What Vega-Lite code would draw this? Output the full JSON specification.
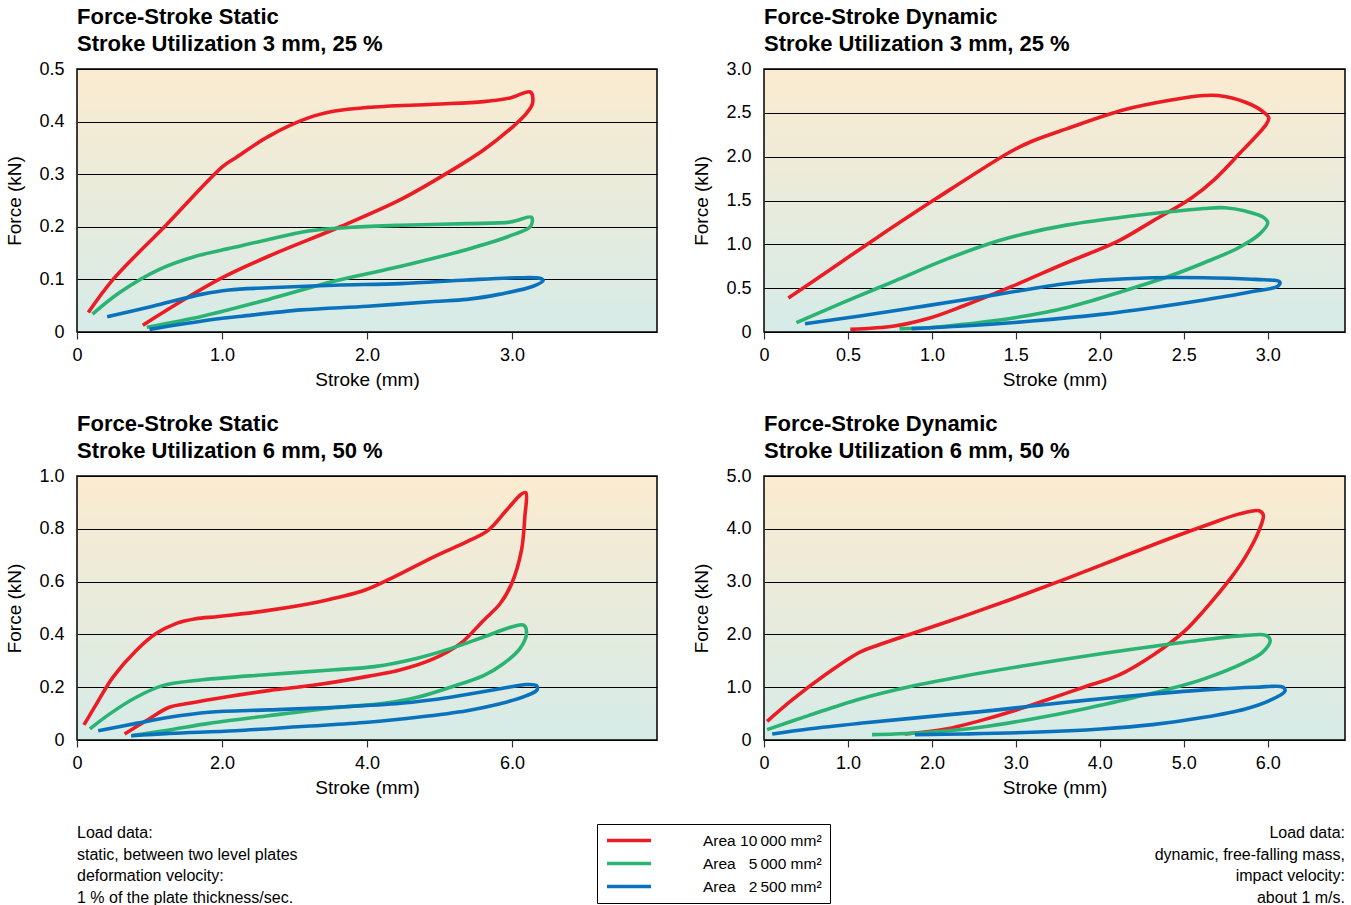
{
  "$schema": "https://vega.github.io/schema/vega-lite/v6.json",
  "padding": {"left": 5, "top": 5, "right": 0, "bottom": 0},
  "background": "white",
  "datasets": {
    "curves": [
      {"p":1,"s":"10000","i":0,"x":0.078,"y":0.037},{"p":1,"s":"10000","i":1,"x":0.249,"y":0.100},{"p":1,"s":"10000","i":2,"x":0.614,"y":0.203},{"p":1,"s":"10000","i":3,"x":1.002,"y":0.314},{"p":1,"s":"10000","i":4,"x":1.093,"y":0.331},{"p":1,"s":"10000","i":5,"x":1.321,"y":0.372},{"p":1,"s":"10000","i":6,"x":1.595,"y":0.407},{"p":1,"s":"10000","i":7,"x":1.777,"y":0.420},{"p":1,"s":"10000","i":8,"x":2.005,"y":0.427},{"p":1,"s":"10000","i":9,"x":2.462,"y":0.433},{"p":1,"s":"10000","i":10,"x":2.804,"y":0.438},{"p":1,"s":"10000","i":11,"x":2.987,"y":0.445},{"p":1,"s":"10000","i":12,"x":3.128,"y":0.456},{"p":1,"s":"10000","i":13,"x":3.142,"y":0.435},{"p":1,"s":"10000","i":14,"x":3.101,"y":0.416},{"p":1,"s":"10000","i":15,"x":3.009,"y":0.391},{"p":1,"s":"10000","i":16,"x":2.804,"y":0.346},{"p":1,"s":"10000","i":17,"x":2.576,"y":0.306},{"p":1,"s":"10000","i":18,"x":2.234,"y":0.252},{"p":1,"s":"10000","i":19,"x":1.823,"y":0.201},{"p":1,"s":"10000","i":20,"x":1.321,"y":0.144},{"p":1,"s":"10000","i":21,"x":0.979,"y":0.100},{"p":1,"s":"10000","i":22,"x":0.705,"y":0.056},{"p":1,"s":"10000","i":23,"x":0.454,"y":0.013},
      {"p":1,"s":"5000","i":0,"x":0.107,"y":0.034},{"p":1,"s":"5000","i":1,"x":0.294,"y":0.075},{"p":1,"s":"5000","i":2,"x":0.568,"y":0.119},{"p":1,"s":"5000","i":3,"x":0.819,"y":0.144},{"p":1,"s":"5000","i":4,"x":1.070,"y":0.160},{"p":1,"s":"5000","i":5,"x":1.321,"y":0.176},{"p":1,"s":"5000","i":6,"x":1.595,"y":0.192},{"p":1,"s":"5000","i":7,"x":1.891,"y":0.199},{"p":1,"s":"5000","i":8,"x":2.234,"y":0.203},{"p":1,"s":"5000","i":9,"x":2.690,"y":0.206},{"p":1,"s":"5000","i":10,"x":2.987,"y":0.209},{"p":1,"s":"5000","i":11,"x":3.135,"y":0.218},{"p":1,"s":"5000","i":12,"x":3.128,"y":0.201},{"p":1,"s":"5000","i":13,"x":3.009,"y":0.185},{"p":1,"s":"5000","i":14,"x":2.690,"y":0.157},{"p":1,"s":"5000","i":15,"x":2.234,"y":0.125},{"p":1,"s":"5000","i":16,"x":1.777,"y":0.097},{"p":1,"s":"5000","i":17,"x":1.321,"y":0.062},{"p":1,"s":"5000","i":18,"x":0.865,"y":0.030},{"p":1,"s":"5000","i":19,"x":0.481,"y":0.009},
      {"p":1,"s":"2500","i":0,"x":0.208,"y":0.029},{"p":1,"s":"2500","i":1,"x":0.522,"y":0.049},{"p":1,"s":"2500","i":2,"x":0.865,"y":0.072},{"p":1,"s":"2500","i":3,"x":1.047,"y":0.080},{"p":1,"s":"2500","i":4,"x":1.321,"y":0.084},{"p":1,"s":"2500","i":5,"x":1.777,"y":0.089},{"p":1,"s":"2500","i":6,"x":2.234,"y":0.092},{"p":1,"s":"2500","i":7,"x":2.690,"y":0.099},{"p":1,"s":"2500","i":8,"x":3.032,"y":0.103},{"p":1,"s":"2500","i":9,"x":3.192,"y":0.102},{"p":1,"s":"2500","i":10,"x":3.215,"y":0.098},{"p":1,"s":"2500","i":11,"x":3.146,"y":0.087},{"p":1,"s":"2500","i":12,"x":2.918,"y":0.072},{"p":1,"s":"2500","i":13,"x":2.690,"y":0.062},{"p":1,"s":"2500","i":14,"x":2.462,"y":0.058},{"p":1,"s":"2500","i":15,"x":2.005,"y":0.049},{"p":1,"s":"2500","i":16,"x":1.549,"y":0.042},{"p":1,"s":"2500","i":17,"x":1.138,"y":0.030},{"p":1,"s":"2500","i":18,"x":0.865,"y":0.021},{"p":1,"s":"2500","i":19,"x":0.500,"y":0.005},
      {"p":2,"s":"10000","i":0,"x":0.145,"y":0.387},{"p":2,"s":"10000","i":1,"x":0.367,"y":0.676},{"p":2,"s":"10000","i":2,"x":0.633,"y":1.025},{"p":2,"s":"10000","i":3,"x":1.023,"y":1.519},{"p":2,"s":"10000","i":4,"x":1.473,"y":2.062},{"p":2,"s":"10000","i":5,"x":1.596,"y":2.176},{"p":2,"s":"10000","i":6,"x":1.801,"y":2.317},{"p":2,"s":"10000","i":7,"x":2.150,"y":2.537},{"p":2,"s":"10000","i":8,"x":2.416,"y":2.643},{"p":2,"s":"10000","i":9,"x":2.621,"y":2.697},{"p":2,"s":"10000","i":10,"x":2.703,"y":2.697},{"p":2,"s":"10000","i":11,"x":2.867,"y":2.621},{"p":2,"s":"10000","i":12,"x":2.969,"y":2.518},{"p":2,"s":"10000","i":13,"x":3.006,"y":2.442},{"p":2,"s":"10000","i":14,"x":2.990,"y":2.366},{"p":2,"s":"10000","i":15,"x":2.826,"y":2.024},{"p":2,"s":"10000","i":16,"x":2.682,"y":1.739},{"p":2,"s":"10000","i":17,"x":2.539,"y":1.519},{"p":2,"s":"10000","i":18,"x":2.314,"y":1.265},{"p":2,"s":"10000","i":19,"x":2.109,"y":1.037},{"p":2,"s":"10000","i":20,"x":1.801,"y":0.790},{"p":2,"s":"10000","i":21,"x":1.473,"y":0.517},{"p":2,"s":"10000","i":22,"x":1.186,"y":0.296},{"p":2,"s":"10000","i":23,"x":0.982,"y":0.156},{"p":2,"s":"10000","i":24,"x":0.777,"y":0.068},{"p":2,"s":"10000","i":25,"x":0.514,"y":0.030},
      {"p":2,"s":"5000","i":0,"x":0.193,"y":0.106},{"p":2,"s":"5000","i":1,"x":0.469,"y":0.334},{"p":2,"s":"5000","i":2,"x":0.777,"y":0.581},{"p":2,"s":"5000","i":3,"x":1.084,"y":0.828},{"p":2,"s":"5000","i":4,"x":1.391,"y":1.037},{"p":2,"s":"5000","i":5,"x":1.535,"y":1.113},{"p":2,"s":"5000","i":6,"x":1.801,"y":1.219},{"p":2,"s":"5000","i":7,"x":2.109,"y":1.303},{"p":2,"s":"5000","i":8,"x":2.416,"y":1.371},{"p":2,"s":"5000","i":9,"x":2.621,"y":1.409},{"p":2,"s":"5000","i":10,"x":2.744,"y":1.417},{"p":2,"s":"5000","i":11,"x":2.867,"y":1.379},{"p":2,"s":"5000","i":12,"x":2.969,"y":1.314},{"p":2,"s":"5000","i":13,"x":3.000,"y":1.246},{"p":2,"s":"5000","i":14,"x":2.949,"y":1.113},{"p":2,"s":"5000","i":15,"x":2.826,"y":0.961},{"p":2,"s":"5000","i":16,"x":2.621,"y":0.790},{"p":2,"s":"5000","i":17,"x":2.416,"y":0.638},{"p":2,"s":"5000","i":18,"x":2.109,"y":0.448},{"p":2,"s":"5000","i":19,"x":1.801,"y":0.277},{"p":2,"s":"5000","i":20,"x":1.494,"y":0.163},{"p":2,"s":"5000","i":21,"x":1.186,"y":0.087},{"p":2,"s":"5000","i":22,"x":0.982,"y":0.049},{"p":2,"s":"5000","i":23,"x":0.807,"y":0.038},
      {"p":2,"s":"2500","i":0,"x":0.244,"y":0.095},{"p":2,"s":"2500","i":1,"x":0.572,"y":0.182},{"p":2,"s":"2500","i":2,"x":0.982,"y":0.304},{"p":2,"s":"2500","i":3,"x":1.391,"y":0.429},{"p":2,"s":"2500","i":4,"x":1.801,"y":0.554},{"p":2,"s":"2500","i":5,"x":2.006,"y":0.592},{"p":2,"s":"2500","i":6,"x":2.314,"y":0.619},{"p":2,"s":"2500","i":7,"x":2.621,"y":0.619},{"p":2,"s":"2500","i":8,"x":2.928,"y":0.600},{"p":2,"s":"2500","i":9,"x":3.072,"y":0.570},{"p":2,"s":"2500","i":10,"x":3.061,"y":0.524},{"p":2,"s":"2500","i":11,"x":2.928,"y":0.467},{"p":2,"s":"2500","i":12,"x":2.621,"y":0.365},{"p":2,"s":"2500","i":13,"x":2.314,"y":0.277},{"p":2,"s":"2500","i":14,"x":2.006,"y":0.201},{"p":2,"s":"2500","i":15,"x":1.596,"y":0.125},{"p":2,"s":"2500","i":16,"x":1.186,"y":0.068},{"p":2,"s":"2500","i":17,"x":0.879,"y":0.038},
      {"p":3,"s":"10000","i":0,"x":0.096,"y":0.057},{"p":3,"s":"10000","i":1,"x":0.269,"y":0.137},{"p":3,"s":"10000","i":2,"x":0.497,"y":0.238},{"p":3,"s":"10000","i":3,"x":0.817,"y":0.339},{"p":3,"s":"10000","i":4,"x":1.090,"y":0.403},{"p":3,"s":"10000","i":5,"x":1.364,"y":0.441},{"p":3,"s":"10000","i":6,"x":1.638,"y":0.459},{"p":3,"s":"10000","i":7,"x":1.957,"y":0.468},{"p":3,"s":"10000","i":8,"x":2.641,"y":0.491},{"p":3,"s":"10000","i":9,"x":3.326,"y":0.523},{"p":3,"s":"10000","i":10,"x":3.964,"y":0.567},{"p":3,"s":"10000","i":11,"x":4.375,"y":0.618},{"p":3,"s":"10000","i":12,"x":4.922,"y":0.694},{"p":3,"s":"10000","i":13,"x":5.379,"y":0.751},{"p":3,"s":"10000","i":14,"x":5.675,"y":0.795},{"p":3,"s":"10000","i":15,"x":5.926,"y":0.871},{"p":3,"s":"10000","i":16,"x":6.131,"y":0.932},{"p":3,"s":"10000","i":17,"x":6.191,"y":0.937},{"p":3,"s":"10000","i":18,"x":6.177,"y":0.846},{"p":3,"s":"10000","i":19,"x":6.131,"y":0.719},{"p":3,"s":"10000","i":20,"x":5.995,"y":0.592},{"p":3,"s":"10000","i":21,"x":5.835,"y":0.516},{"p":3,"s":"10000","i":22,"x":5.607,"y":0.453},{"p":3,"s":"10000","i":23,"x":5.287,"y":0.365},{"p":3,"s":"10000","i":24,"x":4.922,"y":0.308},{"p":3,"s":"10000","i":25,"x":4.466,"y":0.266},{"p":3,"s":"10000","i":26,"x":4.010,"y":0.241},{"p":3,"s":"10000","i":27,"x":3.326,"y":0.210},{"p":3,"s":"10000","i":28,"x":2.641,"y":0.187},{"p":3,"s":"10000","i":29,"x":2.094,"y":0.165},{"p":3,"s":"10000","i":30,"x":1.501,"y":0.137},{"p":3,"s":"10000","i":31,"x":1.273,"y":0.124},{"p":3,"s":"10000","i":32,"x":0.953,"y":0.073},{"p":3,"s":"10000","i":33,"x":0.657,"y":0.023},
      {"p":3,"s":"5000","i":0,"x":0.178,"y":0.042},{"p":3,"s":"5000","i":1,"x":0.452,"y":0.099},{"p":3,"s":"5000","i":2,"x":0.817,"y":0.162},{"p":3,"s":"5000","i":3,"x":1.182,"y":0.206},{"p":3,"s":"5000","i":4,"x":1.729,"y":0.228},{"p":3,"s":"5000","i":5,"x":2.641,"y":0.248},{"p":3,"s":"5000","i":6,"x":3.554,"y":0.266},{"p":3,"s":"5000","i":7,"x":4.101,"y":0.278},{"p":3,"s":"5000","i":8,"x":4.694,"y":0.310},{"p":3,"s":"5000","i":9,"x":5.151,"y":0.346},{"p":3,"s":"5000","i":10,"x":5.607,"y":0.390},{"p":3,"s":"5000","i":11,"x":6.017,"y":0.430},{"p":3,"s":"5000","i":12,"x":6.163,"y":0.435},{"p":3,"s":"5000","i":13,"x":6.200,"y":0.403},{"p":3,"s":"5000","i":14,"x":6.109,"y":0.346},{"p":3,"s":"5000","i":15,"x":5.880,"y":0.289},{"p":3,"s":"5000","i":16,"x":5.607,"y":0.244},{"p":3,"s":"5000","i":17,"x":5.151,"y":0.200},{"p":3,"s":"5000","i":18,"x":4.694,"y":0.162},{"p":3,"s":"5000","i":19,"x":4.238,"y":0.139},{"p":3,"s":"5000","i":20,"x":3.554,"y":0.122},{"p":3,"s":"5000","i":21,"x":2.641,"y":0.092},{"p":3,"s":"5000","i":22,"x":1.820,"y":0.063},{"p":3,"s":"5000","i":23,"x":1.273,"y":0.038},{"p":3,"s":"5000","i":24,"x":0.748,"y":0.016},
      {"p":3,"s":"2500","i":0,"x":0.292,"y":0.035},{"p":3,"s":"2500","i":1,"x":0.817,"y":0.063},{"p":3,"s":"2500","i":2,"x":1.273,"y":0.086},{"p":3,"s":"2500","i":3,"x":1.820,"y":0.105},{"p":3,"s":"2500","i":4,"x":2.641,"y":0.114},{"p":3,"s":"2500","i":5,"x":3.554,"y":0.124},{"p":3,"s":"2500","i":6,"x":4.466,"y":0.139},{"p":3,"s":"2500","i":7,"x":5.151,"y":0.162},{"p":3,"s":"2500","i":8,"x":5.835,"y":0.194},{"p":3,"s":"2500","i":9,"x":6.200,"y":0.210},{"p":3,"s":"2500","i":10,"x":6.337,"y":0.206},{"p":3,"s":"2500","i":11,"x":6.346,"y":0.190},{"p":3,"s":"2500","i":12,"x":6.200,"y":0.168},{"p":3,"s":"2500","i":13,"x":5.835,"y":0.137},{"p":3,"s":"2500","i":14,"x":5.379,"y":0.111},{"p":3,"s":"2500","i":15,"x":4.694,"y":0.086},{"p":3,"s":"2500","i":16,"x":4.010,"y":0.067},{"p":3,"s":"2500","i":17,"x":3.098,"y":0.051},{"p":3,"s":"2500","i":18,"x":2.185,"y":0.035},{"p":3,"s":"2500","i":19,"x":1.273,"y":0.025},{"p":3,"s":"2500","i":20,"x":0.748,"y":0.016},
      {"p":4,"s":"10000","i":0,"x":0.037,"y":0.354},{"p":4,"s":"10000","i":1,"x":0.324,"y":0.747},{"p":4,"s":"10000","i":2,"x":0.734,"y":1.241},{"p":4,"s":"10000","i":3,"x":1.143,"y":1.665},{"p":4,"s":"10000","i":4,"x":1.348,"y":1.791},{"p":4,"s":"10000","i":5,"x":1.758,"y":2.013},{"p":4,"s":"10000","i":6,"x":2.373,"y":2.342},{"p":4,"s":"10000","i":7,"x":2.988,"y":2.690},{"p":4,"s":"10000","i":8,"x":3.602,"y":3.057},{"p":4,"s":"10000","i":9,"x":4.217,"y":3.437},{"p":4,"s":"10000","i":10,"x":4.832,"y":3.816},{"p":4,"s":"10000","i":11,"x":5.324,"y":4.101},{"p":4,"s":"10000","i":12,"x":5.652,"y":4.278},{"p":4,"s":"10000","i":13,"x":5.898,"y":4.342},{"p":4,"s":"10000","i":14,"x":5.947,"y":4.259},{"p":4,"s":"10000","i":15,"x":5.898,"y":3.975},{"p":4,"s":"10000","i":16,"x":5.734,"y":3.468},{"p":4,"s":"10000","i":17,"x":5.570,"y":3.089},{"p":4,"s":"10000","i":18,"x":5.242,"y":2.456},{"p":4,"s":"10000","i":19,"x":4.996,"y":2.044},{"p":4,"s":"10000","i":20,"x":4.627,"y":1.601},{"p":4,"s":"10000","i":21,"x":4.217,"y":1.222},{"p":4,"s":"10000","i":22,"x":3.807,"y":1.000},{"p":4,"s":"10000","i":23,"x":3.398,"y":0.778},{"p":4,"s":"10000","i":24,"x":2.988,"y":0.557},{"p":4,"s":"10000","i":25,"x":2.578,"y":0.367},{"p":4,"s":"10000","i":26,"x":2.168,"y":0.209},{"p":4,"s":"10000","i":27,"x":1.676,"y":0.114},
      {"p":4,"s":"5000","i":0,"x":0.037,"y":0.196},{"p":4,"s":"5000","i":1,"x":0.529,"y":0.462},{"p":4,"s":"5000","i":2,"x":1.143,"y":0.778},{"p":4,"s":"5000","i":3,"x":1.758,"y":1.019},{"p":4,"s":"5000","i":4,"x":2.373,"y":1.209},{"p":4,"s":"5000","i":5,"x":3.193,"y":1.430},{"p":4,"s":"5000","i":6,"x":4.012,"y":1.633},{"p":4,"s":"5000","i":7,"x":4.627,"y":1.772},{"p":4,"s":"5000","i":8,"x":5.242,"y":1.899},{"p":4,"s":"5000","i":9,"x":5.734,"y":1.981},{"p":4,"s":"5000","i":10,"x":5.980,"y":1.981},{"p":4,"s":"5000","i":11,"x":6.029,"y":1.886},{"p":4,"s":"5000","i":12,"x":5.939,"y":1.665},{"p":4,"s":"5000","i":13,"x":5.734,"y":1.475},{"p":4,"s":"5000","i":14,"x":5.242,"y":1.158},{"p":4,"s":"5000","i":15,"x":4.832,"y":0.968},{"p":4,"s":"5000","i":16,"x":4.422,"y":0.810},{"p":4,"s":"5000","i":17,"x":3.807,"y":0.589},{"p":4,"s":"5000","i":18,"x":3.193,"y":0.399},{"p":4,"s":"5000","i":19,"x":2.578,"y":0.241},{"p":4,"s":"5000","i":20,"x":1.963,"y":0.146},{"p":4,"s":"5000","i":21,"x":1.553,"y":0.114},{"p":4,"s":"5000","i":22,"x":1.287,"y":0.101},
      {"p":4,"s":"2500","i":0,"x":0.098,"y":0.114},{"p":4,"s":"2500","i":1,"x":0.529,"y":0.209},{"p":4,"s":"2500","i":2,"x":1.143,"y":0.316},{"p":4,"s":"2500","i":3,"x":1.963,"y":0.443},{"p":4,"s":"2500","i":4,"x":2.783,"y":0.570},{"p":4,"s":"2500","i":5,"x":3.602,"y":0.715},{"p":4,"s":"2500","i":6,"x":4.422,"y":0.842},{"p":4,"s":"2500","i":7,"x":5.242,"y":0.949},{"p":4,"s":"2500","i":8,"x":5.857,"y":1.000},{"p":4,"s":"2500","i":9,"x":6.184,"y":1.000},{"p":4,"s":"2500","i":10,"x":6.205,"y":0.924},{"p":4,"s":"2500","i":11,"x":6.020,"y":0.747},{"p":4,"s":"2500","i":12,"x":5.734,"y":0.589},{"p":4,"s":"2500","i":13,"x":5.242,"y":0.430},{"p":4,"s":"2500","i":14,"x":4.627,"y":0.291},{"p":4,"s":"2500","i":15,"x":4.012,"y":0.209},{"p":4,"s":"2500","i":16,"x":3.193,"y":0.146},{"p":4,"s":"2500","i":17,"x":2.373,"y":0.114},{"p":4,"s":"2500","i":18,"x":1.799,"y":0.101}
    ]
  },
  "columns": 2,
  "spacing": {"row": 22, "column": 34},
  "concat": [
    {
      "title": {"text": ["Force-Stroke Static", "Stroke Utilization 3 mm, 25 %"]},
      "width": 580, "height": 263,
      "data": {"name": "curves"},
      "transform": [{"filter": "datum.p == 1"}],
      "mark": {"type": "line", "strokeWidth": 3.6, "interpolate": "catmull-rom"},
      "encoding": {
        "x": {"field": "x", "type": "quantitative", "scale": {"domain": [0, 4], "nice": false}, "axis": {"values": [0, 1, 2, 3], "title": "Stroke (mm)"}},
        "y": {"field": "y", "type": "quantitative", "scale": {"domain": [0, 0.5], "nice": false}, "axis": {"values": [0, 0.1, 0.2, 0.3, 0.4, 0.5], "title": "Force (kN)"}},
        "color": {"field": "s", "type": "nominal", "scale": {"domain": ["10000", "5000", "2500"], "range": ["#ec1c24", "#2bb373", "#0a72bc"]},
          "legend": {"orient": "none", "legendX": 520, "legendY": 755, "title": null, "labelExpr": "datum.value == '10000' ? 'Area 10\u2009000 mm²' : datum.value == '5000' ? 'Area \u20075\u2009000 mm²' : 'Area \u20072\u2009500 mm²'"}},
        "order": {"field": "i", "type": "quantitative"}
      }
    },
    {
      "title": {"text": ["Force-Stroke Dynamic", "Stroke Utilization 3 mm, 25 %"]},
      "width": 581, "height": 263,
      "data": {"name": "curves"},
      "transform": [{"filter": "datum.p == 2"}],
      "mark": {"type": "line", "strokeWidth": 3.6, "interpolate": "catmull-rom"},
      "encoding": {
        "x": {"field": "x", "type": "quantitative", "scale": {"domain": [0, 3.46], "nice": false}, "axis": {"values": [0, 0.5, 1, 1.5, 2, 2.5, 3], "title": "Stroke (mm)"}},
        "y": {"field": "y", "type": "quantitative", "scale": {"domain": [0, 3], "nice": false}, "axis": {"values": [0, 0.5, 1, 1.5, 2, 2.5, 3], "title": "Force (kN)"}},
        "color": {"field": "s", "type": "nominal", "scale": {"domain": ["10000", "5000", "2500"], "range": ["#ec1c24", "#2bb373", "#0a72bc"]},
          "legend": {"orient": "none", "legendX": 520, "legendY": 755, "title": null, "labelExpr": "datum.value == '10000' ? 'Area 10\u2009000 mm²' : datum.value == '5000' ? 'Area \u20075\u2009000 mm²' : 'Area \u20072\u2009500 mm²'"}},
        "order": {"field": "i", "type": "quantitative"}
      }
    },
    {
      "title": {"text": ["Force-Stroke Static", "Stroke Utilization 6 mm, 50 %"]},
      "width": 580, "height": 264,
      "data": {"name": "curves"},
      "transform": [{"filter": "datum.p == 3"}],
      "mark": {"type": "line", "strokeWidth": 3.6, "interpolate": "catmull-rom"},
      "encoding": {
        "x": {"field": "x", "type": "quantitative", "scale": {"domain": [0, 8], "nice": false}, "axis": {"values": [0, 2, 4, 6], "title": "Stroke (mm)"}},
        "y": {"field": "y", "type": "quantitative", "scale": {"domain": [0, 1], "nice": false}, "axis": {"values": [0, 0.2, 0.4, 0.6, 0.8, 1], "title": "Force (kN)"}},
        "color": {"field": "s", "type": "nominal", "scale": {"domain": ["10000", "5000", "2500"], "range": ["#ec1c24", "#2bb373", "#0a72bc"]},
          "legend": {"orient": "none", "legendX": 520, "legendY": 755, "title": null, "labelExpr": "datum.value == '10000' ? 'Area 10\u2009000 mm²' : datum.value == '5000' ? 'Area \u20075\u2009000 mm²' : 'Area \u20072\u2009500 mm²'"}},
        "order": {"field": "i", "type": "quantitative"}
      }
    },
    {
      "title": {"text": ["Force-Stroke Dynamic", "Stroke Utilization 6 mm, 50 %"]},
      "width": 581, "height": 264,
      "data": {"name": "curves"},
      "transform": [{"filter": "datum.p == 4"}],
      "mark": {"type": "line", "strokeWidth": 3.6, "interpolate": "catmull-rom"},
      "encoding": {
        "x": {"field": "x", "type": "quantitative", "scale": {"domain": [0, 6.92], "nice": false}, "axis": {"values": [0, 1, 2, 3, 4, 5, 6], "title": "Stroke (mm)"}},
        "y": {"field": "y", "type": "quantitative", "scale": {"domain": [0, 5], "nice": false}, "axis": {"values": [0, 1, 2, 3, 4, 5], "title": "Force (kN)"}},
        "color": {"field": "s", "type": "nominal", "scale": {"domain": ["10000", "5000", "2500"], "range": ["#ec1c24", "#2bb373", "#0a72bc"]},
          "legend": {"orient": "none", "legendX": 520, "legendY": 755, "title": null, "labelExpr": "datum.value == '10000' ? 'Area 10\u2009000 mm²' : datum.value == '5000' ? 'Area \u20075\u2009000 mm²' : 'Area \u20072\u2009500 mm²'"}},
        "order": {"field": "i", "type": "quantitative"}
      }
    },
    {
      "width": 580, "height": 78,
      "view": {"stroke": null, "fill": null},
      "data": {"values": [
        {"line": 0, "text": "Load data:"},
        {"line": 1, "text": "static, between two level plates"},
        {"line": 2, "text": "deformation velocity:"},
        {"line": 3, "text": "1 % of the plate thickness/sec."}
      ]},
      "mark": {"type": "text", "align": "left", "baseline": "middle", "font": "Liberation Sans", "fontSize": 16, "color": "black"},
      "encoding": {
        "x": {"datum": 0, "type": "quantitative", "scale": {"domain": [0, 1]}, "axis": null},
        "y": {"field": "line", "type": "quantitative", "scale": {"domain": [-0.6, 3], "reverse": true, "nice": false, "zero": false}, "axis": null},
        "text": {"field": "text"}
      }
    },
    {
      "width": 581, "height": 78,
      "view": {"stroke": null, "fill": null},
      "data": {"values": [
        {"line": 0, "text": "Load data:"},
        {"line": 1, "text": "dynamic, free-falling mass,"},
        {"line": 2, "text": "impact velocity:"},
        {"line": 3, "text": "about 1 m/s."}
      ]},
      "mark": {"type": "text", "align": "right", "baseline": "middle", "font": "Liberation Sans", "fontSize": 16, "color": "black"},
      "encoding": {
        "x": {"datum": 1, "type": "quantitative", "scale": {"domain": [0, 1]}, "axis": null},
        "y": {"field": "line", "type": "quantitative", "scale": {"domain": [-0.6, 3], "reverse": true, "nice": false, "zero": false}, "axis": null},
        "text": {"field": "text"}
      }
    }
  ],
  "config": {
    "font": "Liberation Sans",
    "view": {
      "stroke": "black", "strokeWidth": 1.5,
      "fill": {"gradient": "linear", "x1": 0, "y1": 0, "x2": 0, "y2": 1, "stops": [{"offset": 0, "color": "#fbebd0"}, {"offset": 1, "color": "#d6ebe8"}]}
    },
    "title": {"anchor": "start", "frame": "group", "font": "Liberation Sans", "fontSize": 22, "fontWeight": "bold", "color": "black", "lineHeight": 27, "offset": 4},
    "axis": {
      "labelFont": "Liberation Sans", "labelFontSize": 18, "labelColor": "black", "labelFlush": false,
      "titleFont": "Liberation Sans", "titleFontSize": 19, "titleFontWeight": "normal", "titleColor": "black",
      "domain": false,
      "labelExpr": "datum.value == 0 ? '0' : format(datum.value, '.1f')"
    },
    "axisX": {"grid": false, "ticks": true, "tickSize": 7, "tickColor": "#333", "tickWidth": 1.2, "labelPadding": 7, "titlePadding": 6},
    "axisY": {"grid": true, "gridColor": "black", "gridWidth": 1.2, "gridOpacity": 1, "ticks": false, "labelPadding": 13, "titlePadding": 14},
    "legend": {
      "strokeColor": "black", "padding": 8, "symbolType": "stroke", "symbolStrokeWidth": 3.5, "symbolSize": 1936,
      "clipHeight": 17, "rowPadding": 6, "labelOffset": 50, "labelFont": "Liberation Sans", "labelFontSize": 15.5, "labelColor": "black"
    }
  }
}
